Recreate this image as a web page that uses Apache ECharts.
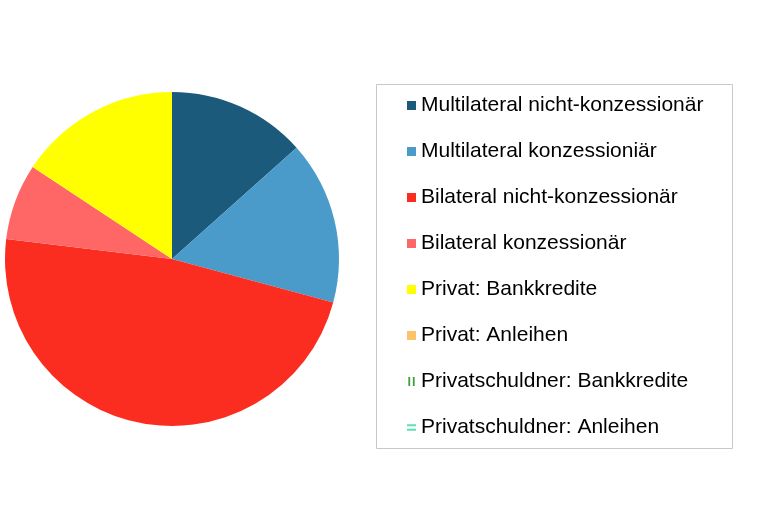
<!DOCTYPE html>
<html lang="de">
<head>
<meta charset="UTF-8">
<title>Schuldenstruktur</title>
<script src="https://cdn.jsdelivr.net/npm/echarts@6.0.0/dist/echarts.min.js"></script>
<style>
  html, body { margin: 0; padding: 0; background: #fff; }
  #chart { width: 768px; height: 518px; }
</style>
</head>
<body>
<div id="chart"></div>
<script>
// Kategorien und Anteile (in %)
var categories = [
  'Multilateral nicht-konzessionär',
  'Multilateral konzessioniär',
  'Bilateral nicht-konzessionär',
  'Bilateral konzessionär',
  'Privat: Bankkredite',
  'Privat: Anleihen',
  'Privatschuldner: Bankkredite',
  'Privatschuldner: Anleihen'
];
var values = [13.4, 15.8, 47.7, 7.4, 15.7, 0, 0, 0];
var colors = ['#1b5a7a', '#4a9bc9', '#fb2d20', '#ff6666', '#ffff00', '#fdc36a', '#3f9f3f', '#5ee0b0'];

// Musterfüllungen als Legendensymbol
var vBars = 'path://M1,0 L3,0 L3,10 L1,10 Z M6,0 L8,0 L8,10 L6,10 Z';
var hBars = 'path://M0,1 L10,1 L10,3 L0,3 Z M0,6 L10,6 L10,8 L0,8 Z';

var legendData = categories.map(function (name, i) {
  var item = { name: name };
  if (i === 6) item.icon = vBars;
  if (i === 7) item.icon = hBars;
  return item;
});

var chart = echarts.init(document.getElementById('chart'));
chart.setOption({
  animation: false,
  color: colors,
  graphic: [{
    type: 'rect',
    shape: { x: 376.5, y: 84.5, width: 356, height: 364 },
    style: { fill: '#fff', stroke: '#c8c8c8', lineWidth: 1 },
    z: -1
  }],
  legend: {
    orient: 'vertical',
    left: 402,
    top: 90,
    itemWidth: 9,
    itemHeight: 9,
    itemGap: 25,
    icon: 'rect',
    data: legendData,
    selectedMode: false,
    textStyle: {
      fontFamily: 'Liberation Sans, Arial, sans-serif',
      fontSize: 21,
      lineHeight: 21,
      color: '#000'
    }
  },
  series: [{
    type: 'pie',
    center: [172, 259],
    radius: [0, 167],
    startAngle: 90,
    clockwise: true,
    label: { show: false },
    labelLine: { show: false },
    emphasis: { disabled: true },
    itemStyle: { borderWidth: 0 },
    data: categories.map(function (name, i) {
      return { name: name, value: values[i] };
    })
  }]
});
</script>
</body>
</html>
